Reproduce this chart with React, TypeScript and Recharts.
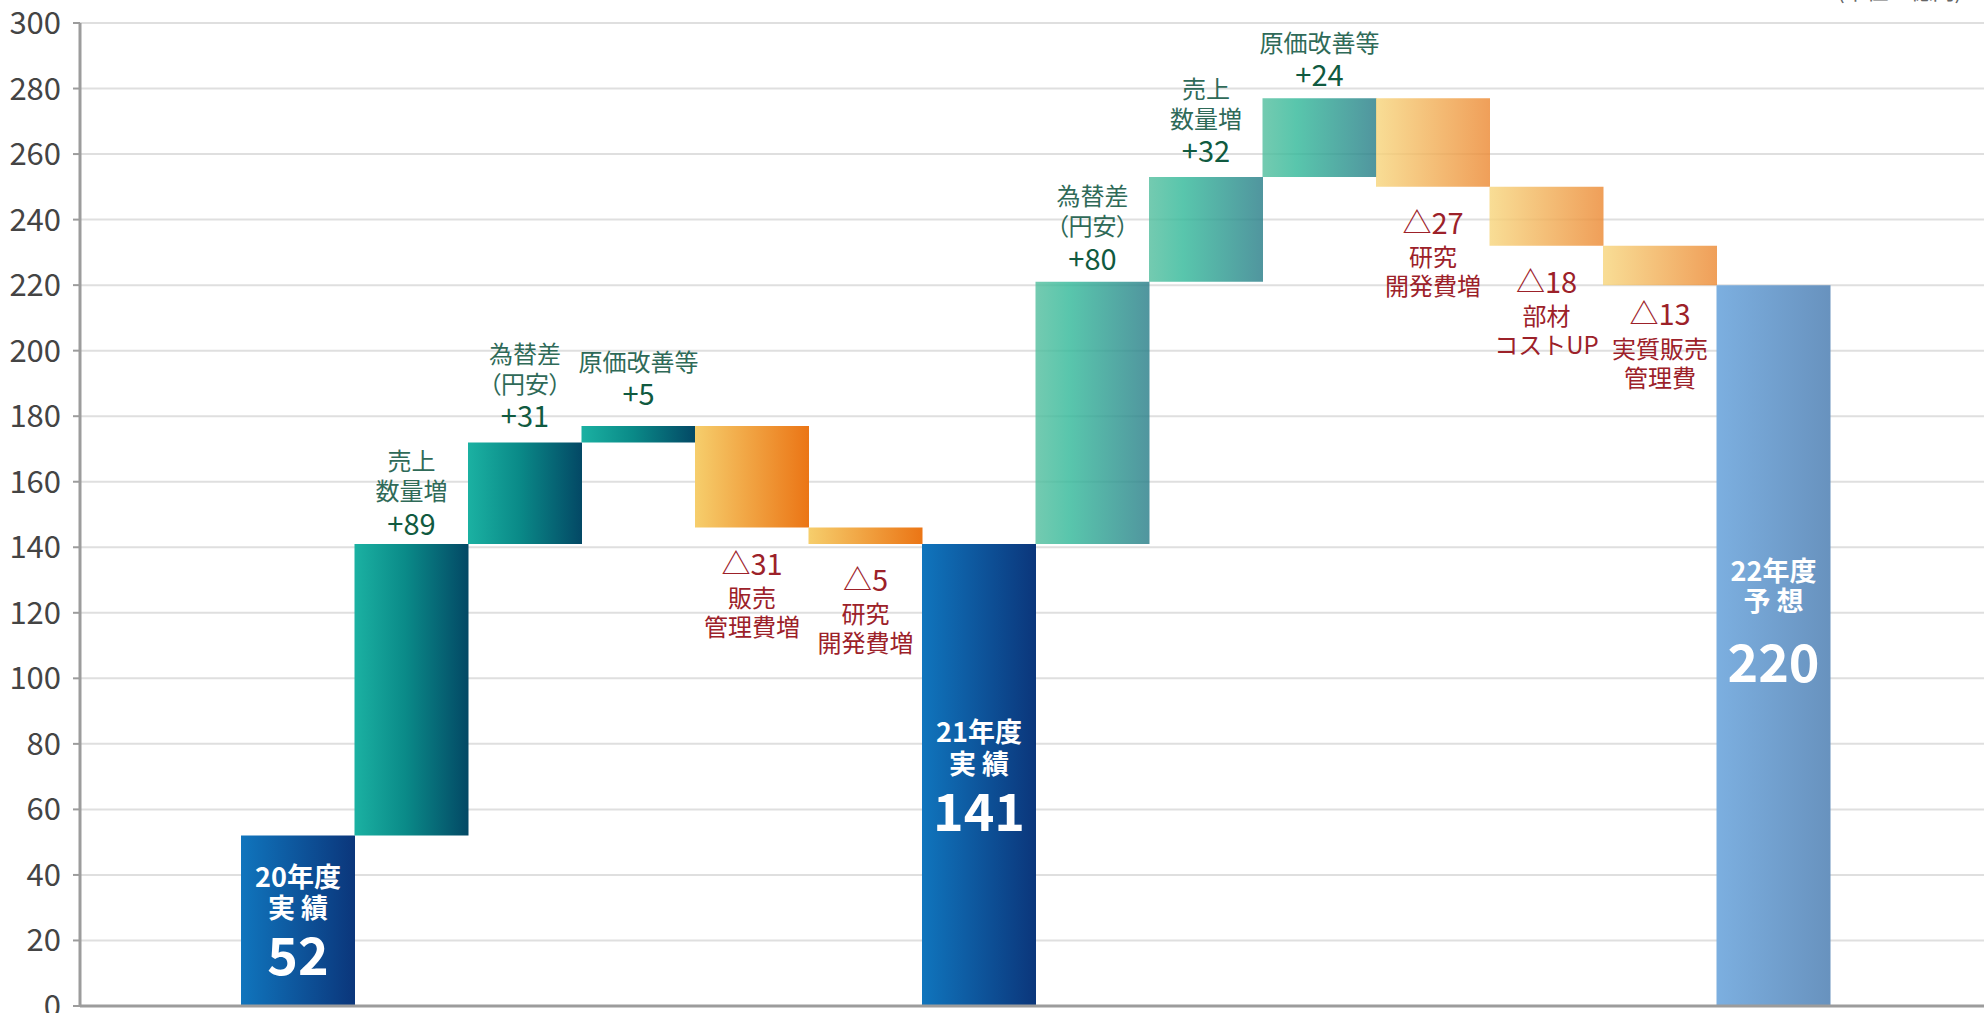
import React from 'react';
import { BarChart, Bar, XAxis, YAxis, CartesianGrid, Cell, LabelList, ReferenceLine } from 'recharts';

const categories = [
  '20年度実績', '売上数量増', '為替差（円安）', '原価改善等', '販売管理費増', '研究開発費増',
  '21年度実績', '為替差（円安）2', '売上数量増2', '原価改善等2', '研究開発費増2', '部材コストUP',
  '実質販売管理費', '22年度予想',
];
const barLow = [0, 52, 141, 172, 146, 141, 0, 141, 221, 253, 250, 232, 220, 0];
const barHigh = [52, 141, 172, 177, 177, 146, 141, 221, 253, 277, 277, 250, 232, 220];
const valueLabels = ['52', '+89', '+31', '+5', '△31', '△5', '141', '+80', '+32', '+24', '△27', '△18', '△13', '220'];
const nameLabels: string[][] = [
  ['20年度', '実 績'], ['売上', '数量増'], ['為替差', '（円安）'], ['原価改善等'], ['販売', '管理費増'],
  ['研究', '開発費増'], ['21年度', '実 績'], ['為替差', '（円安）'], ['売上', '数量増'], ['原価改善等'],
  ['研究', '開発費増'], ['部材', 'コストUP'], ['実質販売', '管理費'], ['22年度', '予 想'],
];
const barKinds = ['total', 'up', 'up', 'up', 'down', 'down', 'total', 'upLight', 'upLight', 'upLight', 'downLight', 'downLight', 'downLight', 'forecast'];
const yTicks = [0, 20, 40, 60, 80, 100, 120, 140, 160, 180, 200, 220, 240, 260, 280, 300];
const unitLabel = '(単位：億円)';

const data = categories.map((c, i) => ({
  name: c,
  range: [barLow[i], barHigh[i]],
  value: valueLabels[i],
}));

const FONT = "'Noto Sans CJK JP', 'Noto Sans', sans-serif";
const fillByKind: Record<string, string> = {
  total: 'url(#gTotal)',
  forecast: 'url(#gForecast)',
  up: 'url(#gUp)',
  down: 'url(#gDown)',
  upLight: 'url(#gUpLight)',
  downLight: 'url(#gDownLight)',
};
const opacityByKind: Record<string, number> = {
  total: 1, forecast: 1, up: 1, down: 1, upLight: 0.82, downLight: 0.82,
};
// layout offsets (px from bar middle) for text inside total bars
const totalOffsets: Record<number, number[]> = {
  0: [-45, -14, 32],
  6: [-44, -12, 34],
  13: [-76, -46, 14],
};
// small per-bar vertical nudges (px) for outside labels
const labelNudge: Record<number, number> = { 1: 3, 2: -3, 3: -9, 8: -3, 12: -7 };

const GREEN_NAME = '#2f6a58';
const GREEN_VALUE = '#105a40';
const RED = '#9c2129';

function renderLabel(props: any) {
  const index: number = props.index;
  const vb = props.viewBox || {};
  const x = props.x ?? vb.x;
  const y = props.y ?? vb.y;
  const width = props.width ?? vb.width;
  const height = props.height ?? vb.height;
  if (x == null || y == null) return null;
  const top = Math.min(y, y + height);
  const bottom = Math.max(y, y + height);
  const cx = x + width / 2;
  const kind = barKinds[index];
  const names = nameLabels[index];
  const val = valueLabels[index];
  const nudge = labelNudge[index] || 0;
  const palt = (s: string) => (s.includes('（') ? { fontFeatureSettings: '"palt"' } : {});

  if (kind === 'total' || kind === 'forecast') {
    const mid = (top + bottom) / 2;
    const off = totalOffsets[index];
    return (
      <g>
        <text x={cx} y={mid + off[0]} textAnchor="middle" dominantBaseline="central" fill="#fff" fontSize={27} fontWeight={700} fontFamily={FONT}>{names[0]}</text>
        <text x={cx} y={mid + off[1]} textAnchor="middle" dominantBaseline="central" fill="#fff" fontSize={27} fontWeight={700} fontFamily={FONT}>{names[1]}</text>
        <text x={cx} y={mid + off[2]} textAnchor="middle" dominantBaseline="central" fill="#fff" fontSize={52} fontWeight={700} fontFamily={FONT}>{val}</text>
      </g>
    );
  }
  if (kind === 'up' || kind === 'upLight') {
    const vy = top - 25 + nudge;
    const n = names.length;
    return (
      <g>
        {names.map((s, k) => (
          <text key={k} x={cx} y={vy - 32 - 30 * (n - 1 - k)} textAnchor="middle" dominantBaseline="central" fill={GREEN_NAME} fontSize={24} fontFamily={FONT} style={palt(s)}>{s}</text>
        ))}
        <text x={cx} y={vy} textAnchor="middle" dominantBaseline="central" fill={GREEN_VALUE} fontSize={29} fontFamily={FONT}>{val}</text>
      </g>
    );
  }
  const vy = bottom + 34 + nudge;
  return (
    <g>
      <text x={cx} y={vy} textAnchor="middle" dominantBaseline="central" fill={RED} fontSize={29} fontFamily={FONT}>{val}</text>
      {names.map((s, k) => (
        <text key={k} x={cx} y={vy + 35 + 29 * k} textAnchor="middle" dominantBaseline="central" fill={RED} fontSize={24} fontFamily={FONT}>{s}</text>
      ))}
    </g>
  );
}

export default function App() {
  return (
    <div style={{ position: 'absolute', left: 0, top: 0, width: 1984, height: 1013, background: '#fff' }}>
      <BarChart
        width={1984}
        height={1013}
        data={data}
        margin={{ top: 23, right: 0, bottom: 7, left: 0 }}
        barCategoryGap={0}
        barGap={0}
      >
        <defs>
          <linearGradient id="gTotal" x1="0" y1="0" x2="1" y2="0">
            <stop offset="0%" stopColor="#1075bd" />
            <stop offset="100%" stopColor="#0b367b" />
          </linearGradient>
          <linearGradient id="gForecast" x1="0" y1="0" x2="1" y2="0">
            <stop offset="0%" stopColor="#7cafe0" />
            <stop offset="100%" stopColor="#6892be" />
          </linearGradient>
          <linearGradient id="gUp" x1="0" y1="0" x2="1" y2="0">
            <stop offset="0%" stopColor="#1bb1a2" />
            <stop offset="45%" stopColor="#0a8a88" />
            <stop offset="100%" stopColor="#034865" />
          </linearGradient>
          <linearGradient id="gDown" x1="0" y1="0" x2="1" y2="0">
            <stop offset="0%" stopColor="#f6ce6c" />
            <stop offset="100%" stopColor="#eb7515" />
          </linearGradient>
          <linearGradient id="gUpLight" x1="0" y1="0" x2="1" y2="0">
            <stop offset="0%" stopColor="#55bf9f" />
            <stop offset="30%" stopColor="#34b99a" />
            <stop offset="100%" stopColor="#2a7e89" />
          </linearGradient>
          <linearGradient id="gDownLight" x1="0" y1="0" x2="1" y2="0">
            <stop offset="0%" stopColor="#f7d67e" />
            <stop offset="100%" stopColor="#ec8a35" />
          </linearGradient>
        </defs>
        <CartesianGrid vertical={false} stroke="#dfdfdf" strokeWidth={2} />
        <XAxis dataKey="name" hide padding={{ left: 161, right: 154 }} />
        <YAxis
          type="number"
          domain={[0, 300]}
          ticks={yTicks}
          interval={0}
          width={80}
          axisLine={{ stroke: '#9c9c9c', strokeWidth: 3 }}
          tickLine={{ stroke: '#9c9c9c', strokeWidth: 2 }}
          tickSize={7}
          tickMargin={12}
          tick={{ fill: '#444', fontSize: 31, fontFamily: FONT }}
        />
        <Bar dataKey="range" isAnimationActive={false}>
          {data.map((d, i) => (
            <Cell key={i} fill={fillByKind[barKinds[i]]} fillOpacity={opacityByKind[barKinds[i]]} />
          ))}
          <LabelList dataKey="value" content={renderLabel} />
        </Bar>
        <ReferenceLine y={0} stroke="#9c9c9c" strokeWidth={3} />
        <text x={1962} y={-1} textAnchor="end" fill="#666" fontSize={22} fontFamily={FONT}>{unitLabel}</text>
      </BarChart>
    </div>
  );
}
